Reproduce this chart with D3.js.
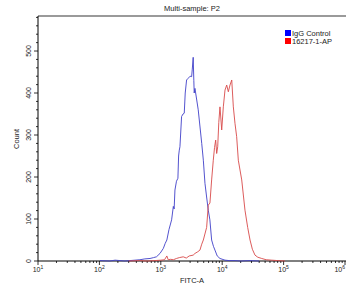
<!DOCTYPE html>
<html>
<head>
<meta charset="utf-8">
<script src="https://cdn.jsdelivr.net/npm/d3@7/dist/d3.min.js"></script>
<style>
  body { margin: 0; background: #fff; }
  text { font-family: "Liberation Sans", Arial, sans-serif; fill: #222; }
</style>
</head>
<body>
<svg id="chart" width="346" height="286"></svg>
<script>
// FITC-A channel value / event count
const igg = [
  [102,1],[148,0],[180,2],[217,1],[260,0],[316,1],[380,2],[457,3],[550,5],[667,6],
  [760,8],[850,10],[970,18],[1100,30],[1180,42],[1255,50],[1360,75],[1500,98],
  [1600,130],[1650,124],[1700,169],[1800,190],[1900,197],[1950,250],[2000,264],
  [2050,272],[2180,344],[2300,350],[2410,352],[2500,400],[2630,431],[2790,435],
  [3000,440],[3180,439],[3250,455],[3370,485],[3450,430],[3500,400],[3600,411],
  [4070,360],[4640,280],[4930,240],[5240,185],[5600,150],[5930,121],[6300,98],
  [6730,50],[7200,35],[7620,26],[8300,12],[9200,6],[11100,2],[13000,1],[16200,1],
  [20000,0],[28400,1],[40000,0]
];
const sample = [
  [300,0],[450,1],[600,0],[800,1],[1000,2],[1150,3],[1255,12],[1320,3],[1450,4],
  [1600,3],[1800,6],[2000,8],[2320,10],[2600,7],[2900,12],[3370,14],[3600,18],
  [4000,22],[4340,26],[4640,40],[4930,50],[5580,80],[5930,133],[6310,138],
  [6730,193],[7160,240],[7500,270],[7830,288],[8130,256],[8450,272],[8800,330],
  [9200,367],[9820,312],[10430,367],[11110,407],[11840,419],[12590,403],
  [13400,419],[14300,431],[15180,367],[16150,328],[17200,296],[18300,240],
  [20800,193],[23500,121],[26000,80],[28400,50],[31000,28],[34200,14],[38000,9],
  [44000,6],[52000,3],[64000,2],[80000,1],[105000,0]
];
const series = [
  { name: "IgG Control", data: igg,    line: "#4040c8", key: "#0000ff" },
  { name: "16217-1-AP",  data: sample, line: "#d84a4a", key: "#ff0000" }
];
const xMajor = [1, 2, 3, 4, 5, 6];          // exponents of 10
const yMajor = [0, 100, 200, 300, 400, 500];

const svg = d3.select("#chart");
const L = 38, R = 345, T = 17, B = 261;

const x = d3.scaleLog().domain([10, 1e6]).range([L, R]);
const y = d3.scaleLinear().domain([0, 581]).range([B, T]);

// top frame
svg.append("line").attr("x1", L).attr("x2", 346).attr("y1", T - 1).attr("y2", T - 1)
  .attr("stroke", "#9a9a9a").attr("stroke-width", 2);

// title
svg.append("text").attr("x", 192).attr("y", 11).attr("text-anchor", "middle")
  .attr("font-size", "7.5px").text("Multi-sample: P2");

// y axis
svg.append("line").attr("x1", L).attr("x2", L).attr("y1", T - 1).attr("y2", B)
  .attr("stroke", "#000").attr("stroke-width", 1);
d3.range(0, 581, 20).forEach(v => {
  const major = v % 100 === 0;
  svg.append("line").attr("x1", L - (major ? 4 : 2)).attr("x2", L)
    .attr("y1", y(v)).attr("y2", y(v)).attr("stroke", "#000").attr("stroke-width", 0.8);
});
yMajor.forEach(v => {
  svg.append("text")
    .attr("transform", `translate(${L - 7},${y(v)}) rotate(-90)`)
    .attr("text-anchor", "middle").attr("font-size", "7px").text(v);
});
svg.append("text").attr("transform", `translate(19,${(T + B) / 2}) rotate(-90)`)
  .attr("text-anchor", "middle").attr("font-size", "7.5px").text("Count");

// x axis
svg.append("line").attr("x1", L).attr("x2", 346).attr("y1", B).attr("y2", B)
  .attr("stroke", "#000").attr("stroke-width", 1);
xMajor.slice(0, -1).forEach(e => {
  for (let m = 1; m <= 9; m++) {
    const v = m * Math.pow(10, e);
    svg.append("line").attr("x1", x(v)).attr("x2", x(v))
      .attr("y1", B).attr("y2", B + (m === 1 ? 4 : 2))
      .attr("stroke", "#000").attr("stroke-width", 0.8);
  }
});
svg.append("line").attr("x1", x(1e6)).attr("x2", x(1e6)).attr("y1", B).attr("y2", B + 4)
  .attr("stroke", "#000").attr("stroke-width", 0.8);
xMajor.forEach((e, i) => {
  const last = i === xMajor.length - 1;
  const t = svg.append("text")
    .attr("x", last ? 345 : x(Math.pow(10, e))).attr("y", 272)
    .attr("text-anchor", last ? "end" : "middle").attr("font-size", "7px");
  t.append("tspan").text("10");
  t.append("tspan").attr("dy", -3).attr("font-size", "5px").text(e);
});
svg.append("text").attr("x", 192).attr("y", 283).attr("text-anchor", "middle")
  .attr("font-size", "7.5px").text("FITC-A");

// histograms
const line = d3.line().x(d => x(d[0])).y(d => y(d[1]));
series.forEach(s => {
  svg.append("path").datum(s.data).attr("d", line)
    .attr("fill", "none").attr("stroke", s.line).attr("stroke-width", 0.9);
});

// legend
series.forEach((s, i) => {
  svg.append("rect").attr("x", 285).attr("y", 30 + i * 8).attr("width", 6).attr("height", 6)
    .attr("fill", s.key);
  svg.append("text").attr("x", 292).attr("y", 36 + i * 8).attr("font-size", "7.5px").text(s.name);
});
</script>
</body>
</html>
